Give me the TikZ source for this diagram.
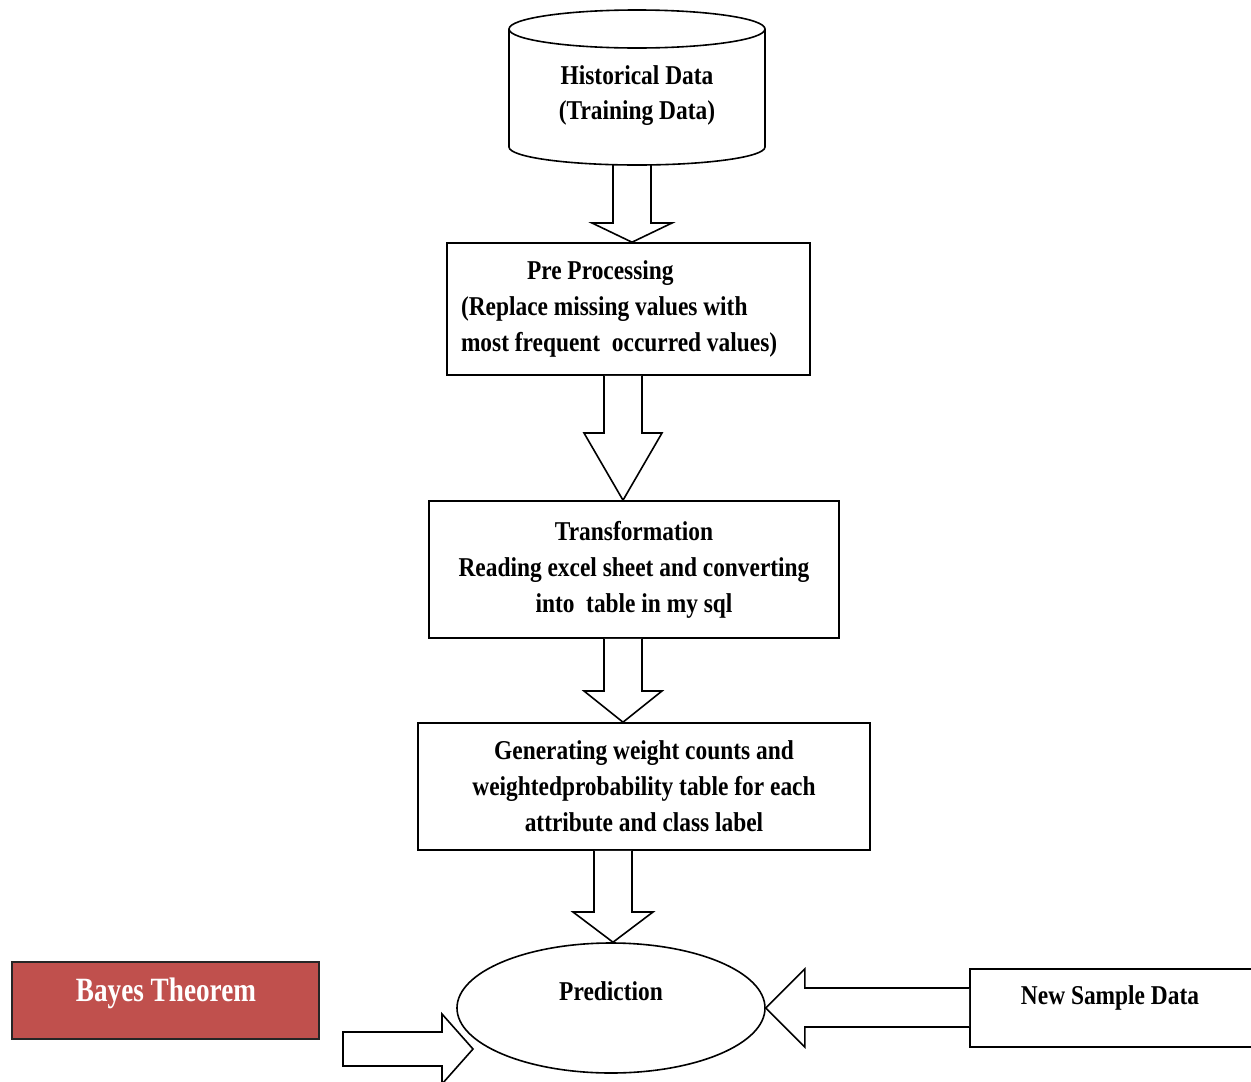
\documentclass[tikz,border=0pt]{standalone}
\usepackage{fontspec}
\setmainfont[FakeStretch=0.86]{Liberation Serif}
\newfontfamily\bayesfont[FakeStretch=0.8]{Liberation Serif}
\usetikzlibrary{shapes.geometric,calc}
\newcommand\blkdown[5]{%
  \draw[blk] (#1-19,0 |- #2) -- (#1-19,#4) -- (#1-#5,#4) -- (#1,0 |- #3) -- (#1+#5,#4) -- (#1+19,#4) -- (#1+19,0 |- #2);}
\begin{document}
\begin{tikzpicture}[x=1pt,y=-1pt,line join=miter,
  ln/.style={line width=1.6pt,draw=black},
  txt/.style={font=\fontsize{27.2}{36}\selectfont\bfseries,inner sep=0pt},
  boxnode/.style={ln,rectangle,inner ysep=0pt,font=\fontsize{27.2}{36}\selectfont\bfseries,align=center},
  blk/.style={ln,fill=white}]
\useasboundingbox (0,0) rectangle (1251,1082);
\clip (0,0) rectangle (1251,1082);
\definecolor{bayesred}{HTML}{C0504D}

\coordinate (histbot) at (637,165);
\node[boxnode,minimum width=363pt,minimum height=132pt,align=flush left,text width=335pt,inner xsep=14pt] (pre) at (628.5,309)
  {\hspace*{66pt}Pre Processing\\(Replace missing values with\\most frequent\ \ occurred values)};
\node[boxnode,minimum width=410pt,minimum height=137pt] (trans) at (634,569.5)
  {Transformation\\Reading excel sheet and converting\\into\ \ table in my sql};
\node[boxnode,minimum width=452pt,minimum height=127pt] (weight) at (644,786.5)
  {Generating weight counts and\\weightedprobability table for each\\attribute and class label};
\node[ellipse,ln,minimum width=308pt,minimum height=130pt,inner sep=0pt] (pred) at (611,1008) {};
\node[txt] (predtxt) at (611,991) {Prediction};

\blkdown{632}{histbot}{pre.north}{223}{40}
\blkdown{623}{pre.south}{trans.north}{433}{39}
\blkdown{623}{trans.south}{weight.north}{691}{39}
\blkdown{613}{weight.south}{pred.north}{912}{40}

% cylinder
\draw[ln,fill=white] (509,29) -- (509,147) arc[start angle=180,end angle=0,x radius=128,y radius=18] -- (765,29);
\draw[ln] (637,29) ellipse [x radius=128,y radius=19];
\node[txt,align=center,font=\fontsize{27.2}{35}\selectfont\bfseries] (hist) at (637,96) {Historical Data\\(Training Data)};

% Bayes theorem
\node[rectangle,draw=black!85,line width=1.6pt,fill=bayesred,minimum width=307pt,minimum height=77pt] (bayes) at (165.5,1000.5) {};
\node[txt,text=white,font=\fontsize{34}{40}\selectfont\bayesfont\bfseries] (bayestxt) at (166,993) {Bayes Theorem};
\coordinate (bt) at (343,1049);
\coordinate (bh) at (473,1049);
\draw[blk] ($(bt)+(0,-17)$) -- ($(bh)+(-31,-17)$) -- ($(bh)+(-31,-35)$) -- (bh) -- ($(bh)+(-31,35)$) -- ($(bh)+(-31,17)$) -- ($(bt)+(0,17)$) -- cycle;

% New sample data
\node[rectangle,ln,minimum width=292pt,minimum height=78pt] (newd) at (1116,1008) {};
\node[txt] (newtxt) at (1110,998) {New Sample Data};
\draw[blk] ($(newd.west)+(0,-20)$) -- ($(pred.east)+(39,-20)$) -- ($(pred.east)+(39,-39)$) -- (pred.east) -- ($(pred.east)+(39,39)$) -- ($(pred.east)+(39,19)$) -- ($(newd.west)+(0,19)$);
\end{tikzpicture}
\end{document}
